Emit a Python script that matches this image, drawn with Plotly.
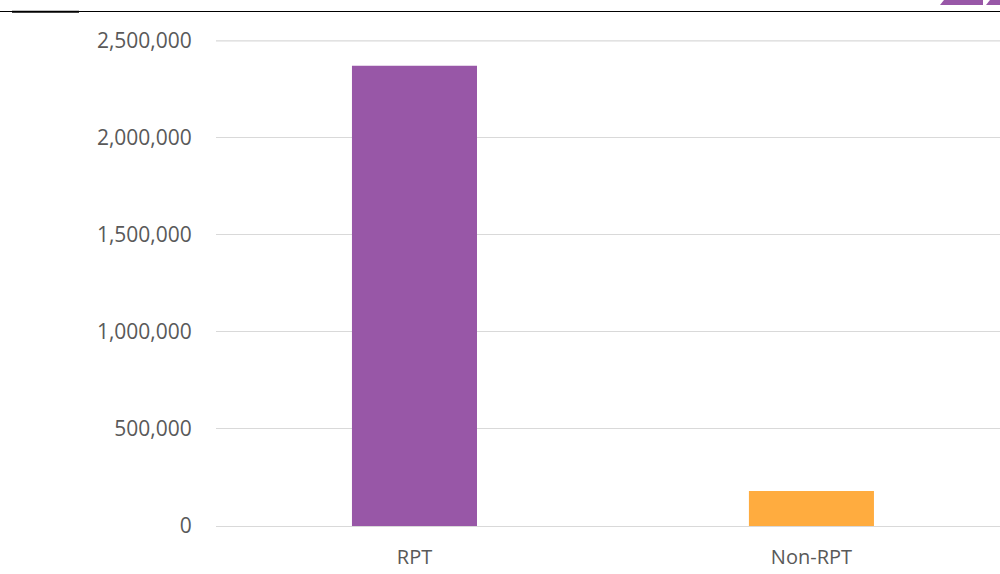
import plotly.graph_objects as go

categories = ["RPT", "Non-RPT"]
values = [2372000, 181000]
colors = ["#9857A7", "#FFAC3F"]
tick_vals = [0, 500000, 1000000, 1500000, 2000000, 2500000]
tick_text = ["0", "500,000", "1,000,000", "1,500,000", "2,000,000", "2,500,000"]

fig = go.Figure()
fig.add_trace(go.Bar(x=categories, y=values, marker=dict(color=colors, line=dict(width=0)),
                     width=0.315, hoverinfo="skip"))

W = 784.0
H = 486.0
T = 40.0


def py(y):
    return 1 + (T - y) / H


def px(x):
    return (x - 216) / W


fig.update_layout(
    width=1000, height=574,
    margin=dict(l=216, r=0, t=40, b=48),
    paper_bgcolor="white", plot_bgcolor="white",
    showlegend=False,
    font=dict(family="Open Sans, Liberation Sans, sans-serif", size=21, color="#595959"),
    xaxis=dict(range=[-0.5, 1.475], showgrid=False, showline=False, zeroline=False,
               ticks="outside", ticklen=13, tickcolor="rgba(0,0,0,0)",
               tickfont=dict(size=20, color="#595959")),
    yaxis=dict(range=[0, 2505000], tickvals=tick_vals, ticktext=tick_text,
               showgrid=True, gridcolor="#D9D9D9", gridwidth=1.3,
               zeroline=True, zerolinecolor="#D9D9D9", zerolinewidth=1.3,
               showline=False, ticks="outside", ticklen=19, tickcolor="rgba(0,0,0,0)",
               tickfont=dict(size=21, color="#595959")),
    shapes=[
        dict(type="line", xref="paper", yref="y", x0=0, x1=1, y0=tick_vals[-1], y1=tick_vals[-1],
             layer="below", line=dict(color="#D9D9D9", width=1.3)),
        dict(type="line", xref="paper", yref="paper", x0=px(0), x1=1, y0=py(11.5), y1=py(11.5),
             line=dict(color="black", width=1)),
        dict(type="line", xref="paper", yref="paper", x0=px(12), x1=px(79), y0=py(11.8), y1=py(11.8),
             line=dict(color="black", width=2)),
        dict(type="path", xref="paper", yref="paper",
             path=f"M {px(940)} {py(5)} L {px(944)} {py(0)} L {px(983)} {py(0)} L {px(983)} {py(5)} Z",
             fillcolor="#9857A7", line=dict(width=0)),
        dict(type="path", xref="paper", yref="paper",
             path=f"M {px(986)} {py(5)} L {px(990)} {py(0)} L {px(1000)} {py(0)} L {px(1000)} {py(5)} Z",
             fillcolor="#9857A7", line=dict(width=0)),
    ],
)

fig.write_html("out.html", config={"displayModeBar": False},
               post_script="document.body.style.margin='0';document.body.style.overflow='hidden';")
